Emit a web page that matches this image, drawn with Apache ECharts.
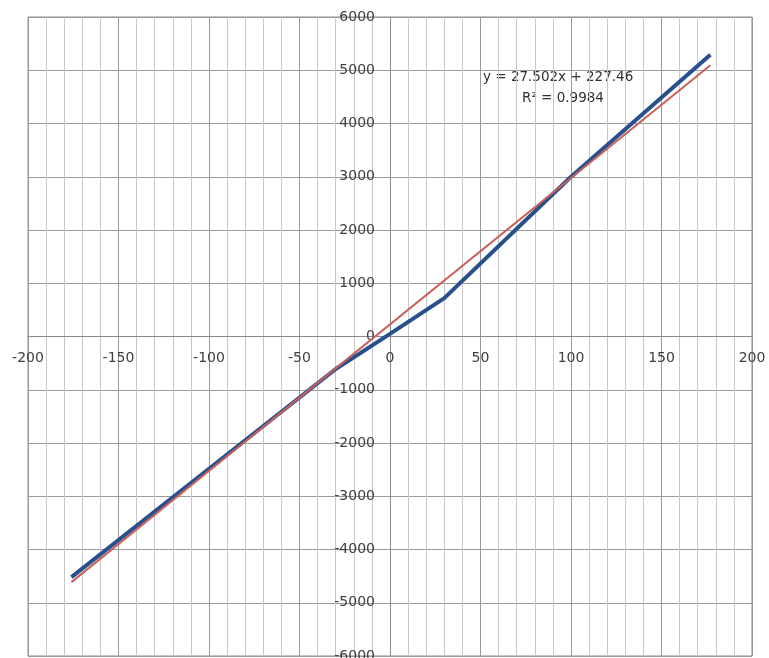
<!DOCTYPE html>
<html>
<head>
<meta charset="utf-8">
<script src="https://cdn.jsdelivr.net/npm/echarts@6/dist/echarts.min.js"></script>
<style>html,body{margin:0;padding:0;background:#fff}#c{width:769px;height:658px}</style>
</head>
<body>
<div id="c"></div>
<script>
// Data
const measuredX = [-176, -30, 0, 30, 100, 177];
const measuredY = [-4520, -610, 50, 720, 3000, 5290];
const trendX = [-176, 177];
const trendY = [-4613, 5095];
const equationText = 'y = 27.502x + 227.46';
const r2Text = 'R² = 0.9984';
const xTicks = [-200, -150, -100, -50, 0, 50, 100, 150, 200];
const yTicks = [-6000, -5000, -4000, -3000, -2000, -1000, 0, 1000, 2000, 3000, 4000, 5000, 6000];

const W = 769, H = 658;
const gridBox = {left: 28, right: 17, top: 17, bottom: 2};
const chart = echarts.init(document.getElementById('c'), null, {renderer: 'canvas'});
const font = {fontFamily: 'DejaVu Sans', fontSize: 14, color: '#404040'};
chart.setOption({
  animation: false,
  backgroundColor: '#fff',
  grid: Object.assign({containLabel: false, outerBoundsMode: 'none',
         show: true, borderColor: '#8a8a8a', borderWidth: 1}, gridBox),
  xAxis: {
    type: 'value', position: 'bottom', min: xTicks[0], max: xTicks[xTicks.length - 1], interval: 50,
    axisLine: {onZero: false, lineStyle: {color: '#8a8a8a', width: 1}},
    axisTick: {show: false},
    axisLabel: Object.assign({margin: 15, showMinLabel: true, showMaxLabel: true, formatter: v => String(v)}, font),
    splitLine: {show: true, lineStyle: {color: '#9a9a9a', width: 1}},
    minorTick: {show: false, splitNumber: 5},
    minorSplitLine: {show: true, lineStyle: {color: '#c8c8c8', width: 1}}
  },
  yAxis: {
    type: 'value', position: 'left', min: yTicks[0], max: yTicks[yTicks.length - 1], interval: 1000,
    axisLine: {onZero: false, lineStyle: {color: '#8a8a8a', width: 1}},
    axisTick: {show: false},
    axisLabel: Object.assign({margin: 15, showMinLabel: true, showMaxLabel: true, formatter: v => String(v)}, font),
    splitLine: {show: true, lineStyle: {color: '#9a9a9a', width: 1}}
  },
  series: [
    {
      type: 'line', name: 'data', symbol: 'none', smooth: false,
      data: measuredX.map((x, i) => [x, measuredY[i]]),
      lineStyle: {color: '#27508c', width: 4},
      z: 3
    },
    {
      type: 'line', name: 'trend', symbol: 'none',
      data: trendX.map((x, i) => [x, trendY[i]]),
      lineStyle: {color: '#c9605a', width: 2},
      z: 4
    }
  ],
  graphic: [
    {type: 'text', left: 483, top: 70, style: {text: equationText, fontFamily: 'DejaVu Sans', fontSize: 13.5, fill: '#303030'}},
    {type: 'text', left: 522, top: 91, style: {text: r2Text, fontFamily: 'DejaVu Sans', fontSize: 13.5, fill: '#303030'}}
  ]
});
// Move both axes so they cross at the origin, using the library's own scales
const origin = chart.convertToPixel({gridIndex: 0}, [0, 0]);
chart.setOption({
  xAxis: {offset: -((H - gridBox.bottom) - origin[1])},
  yAxis: {offset: -(origin[0] - gridBox.left)}
});
</script>
</body>
</html>
